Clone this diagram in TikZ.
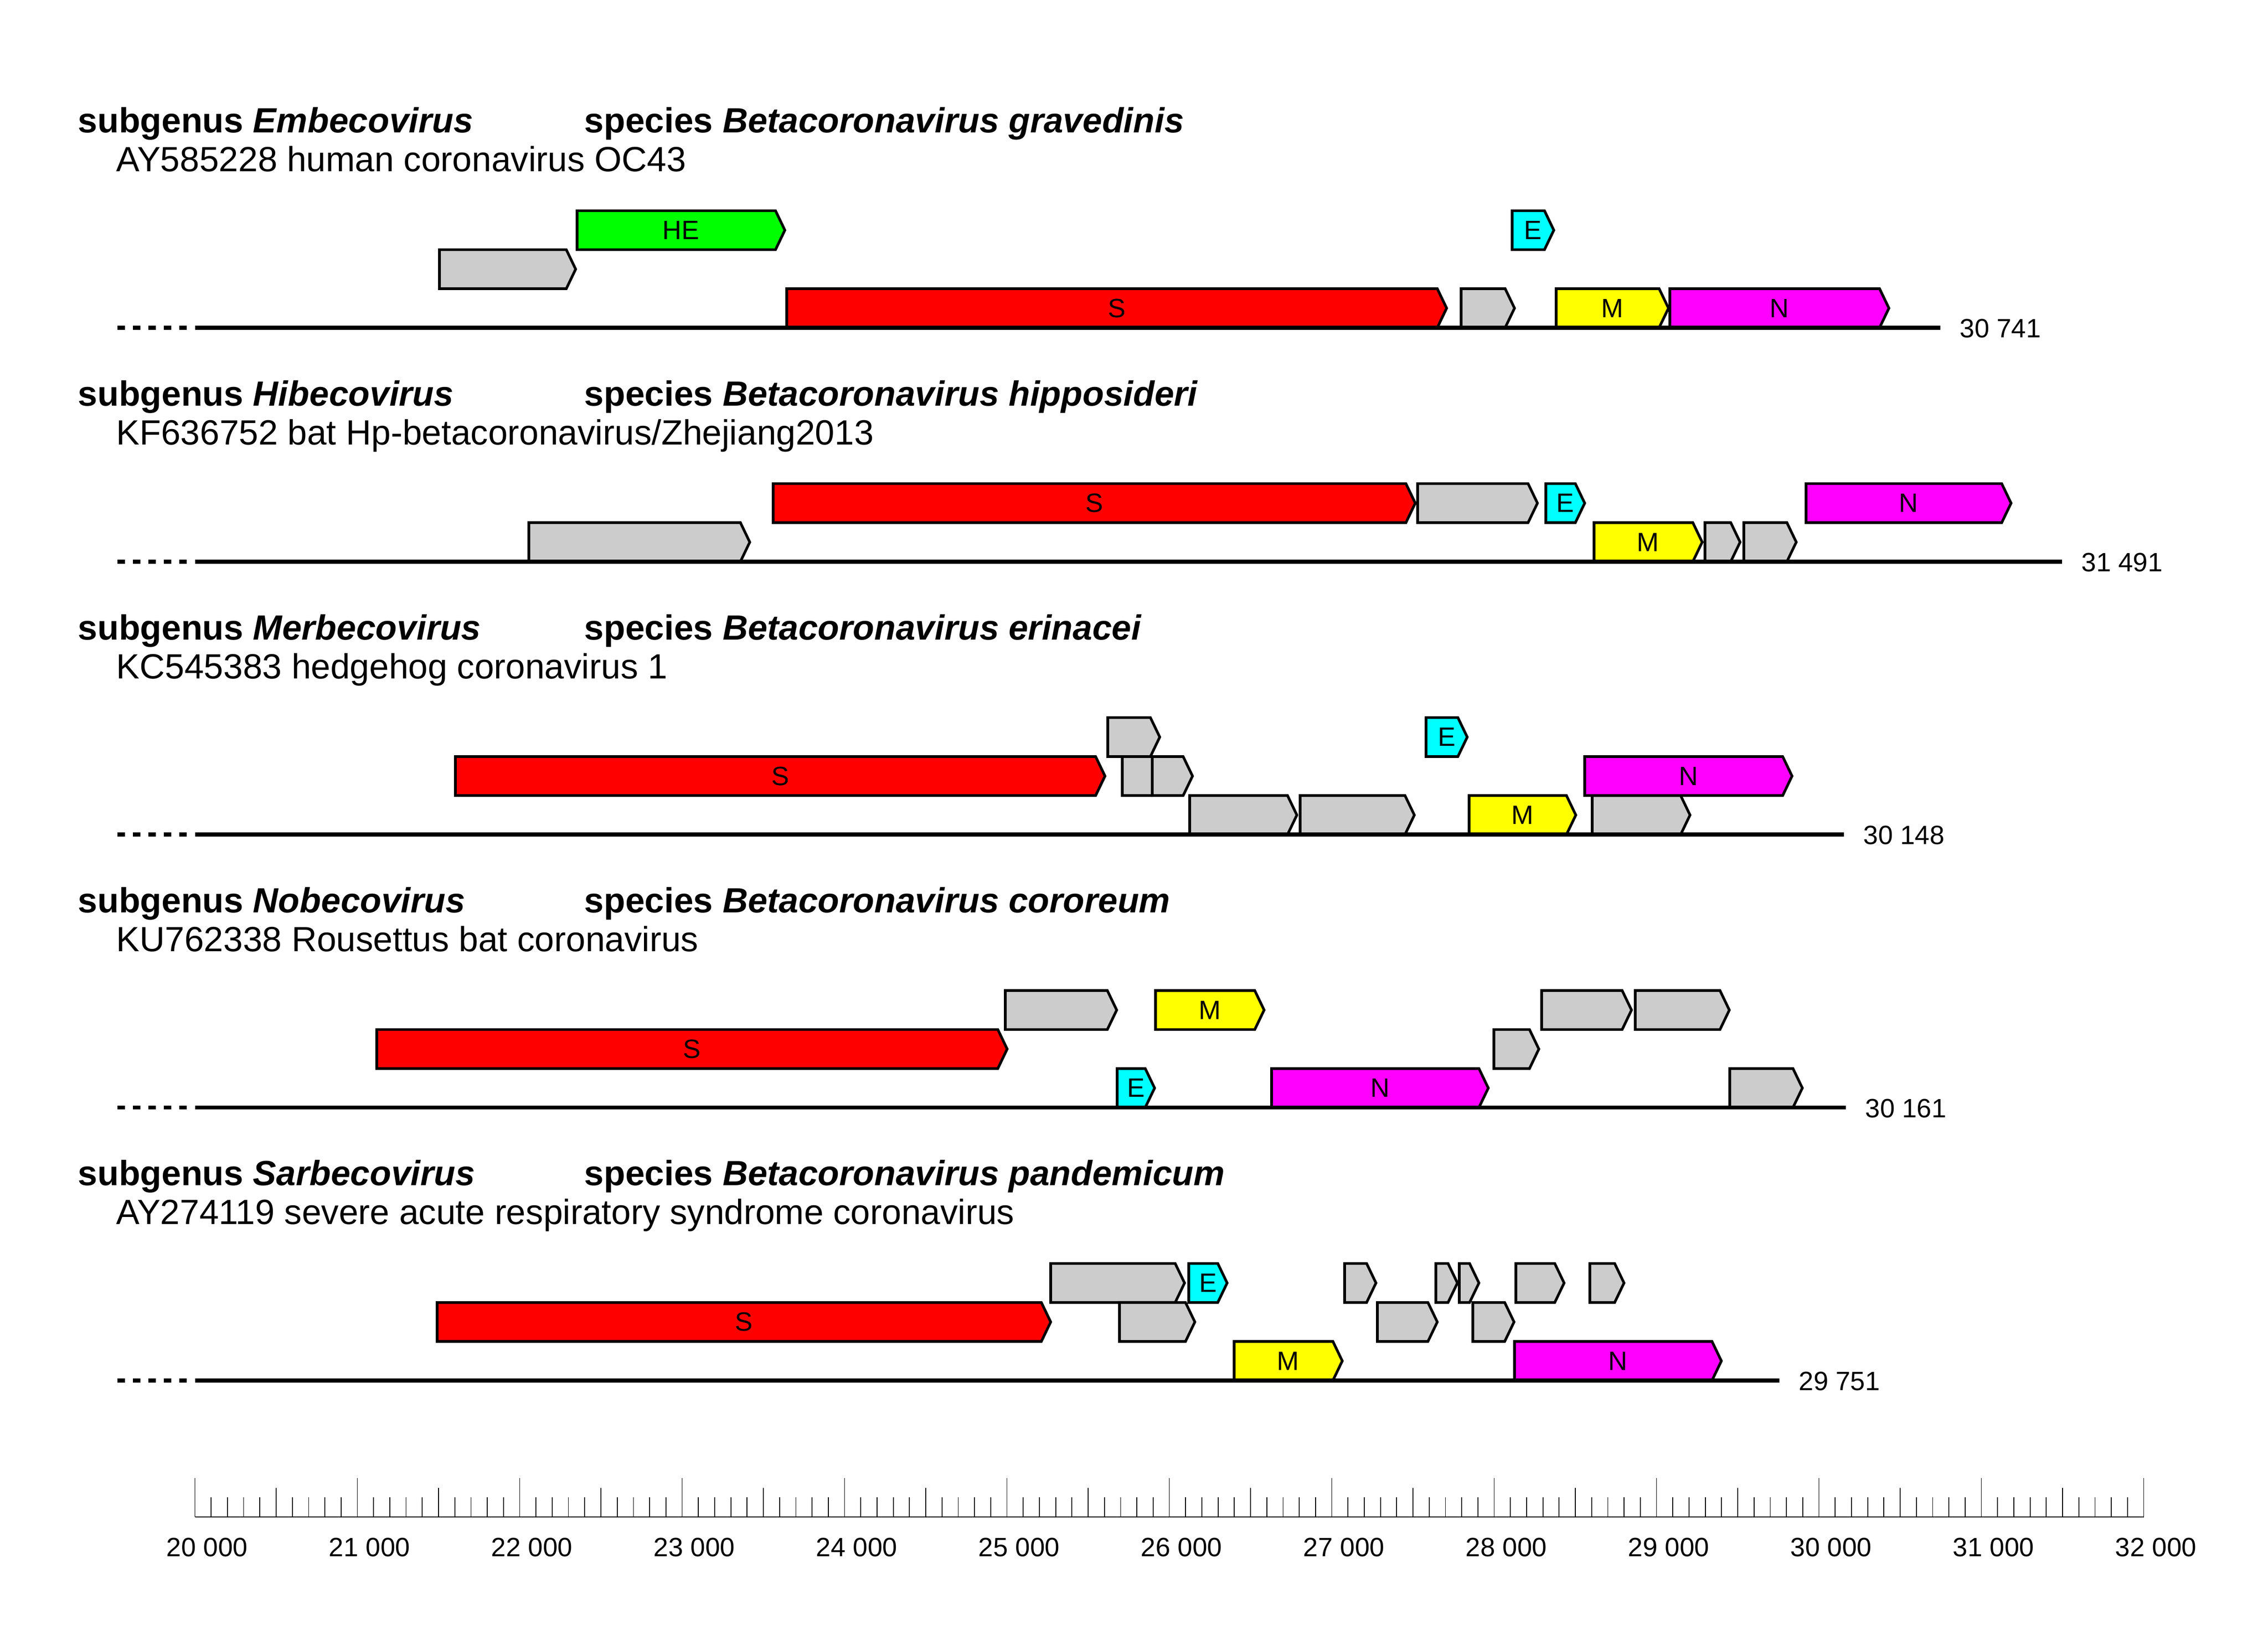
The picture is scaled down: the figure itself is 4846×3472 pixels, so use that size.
\documentclass[tikz,border=0pt]{standalone}
\usepackage{fontspec}
\setmainfont{Liberation Sans}
\definecolor{gred}{HTML}{FF0000}
\definecolor{ggreen}{HTML}{00FF00}
\definecolor{gcyan}{HTML}{00FFFF}
\definecolor{gyellow}{HTML}{FFFF00}
\definecolor{gmagenta}{HTML}{FF00FF}
\definecolor{ggray}{HTML}{CCCCCC}
\newcommand{\orfshape}[4]{% start, tip, row, baseline
  \pgfmathsetmacro{\gt}{#4-#3*83.33}
  \pgfmathsetmacro{\gm}{\gt+41.67}
  \pgfmathsetmacro{\gb}{\gt+83.33}
  \pgfmathsetmacro{\gr}{#2-20}
  \filldraw[genebox] (#1,\gt) -- (\gr,\gt) -- (#2,\gm) -- (\gr,\gb) -- (#1,\gb) -- cycle;
}
\newcommand{\gene}[6]{% start, tip, row, baseline, colour, label
  \pgfmathsetmacro{\gt}{#4-#3*83.33}
  \pgfmathsetmacro{\gm}{\gt+41.67}
  \pgfmathsetmacro{\gb}{\gt+83.33}
  \pgfmathsetmacro{\gr}{#2-20}
  \pgfmathsetmacro{\gc}{(#1+#2)/2}
  \filldraw[genebox,fill=#5] (#1,\gt) -- (\gr,\gt) -- (#2,\gm) -- (\gr,\gb) -- (#1,\gb) -- cycle;
  \node[genelab] at (\gc,\gm) {#6};
}
\newcommand{\track}[9]{% baseline, end, endlabel, subgenus, species, accession text, title baseline
  \draw[trackline] (416.5,#1) -- (#2,#1);
  \draw[dashline] (250.5,#1) -- (410,#1);
  \node[endlab] at ({#2+41},{#1+21}) {#3};
  \node[titlelab] at (166,#7) {\textbf{subgenus \textit{#4}}};
  \node[titlelab] at (1248,#7) {\textbf{species \textit{#5}}};
  \node[titlelab] at (248,{#7+83.33}) {#6};
}
\begin{document}
\begin{tikzpicture}[x=0.01cm,y=-0.01cm,
  genebox/.style={draw=black,fill=ggray,line width=1.6pt,line join=miter},
  genelab/.style={inner sep=0pt,font=\fontsize{16.1pt}{18pt}\selectfont},
  trackline/.style={draw=black,line width=2.4pt},
  dashline/.style={draw=black,line width=2.4pt,dash pattern=on 0.165cm off 0.165cm},
  endlab/.style={anchor=base west,inner sep=0pt,font=\fontsize{16.1pt}{18pt}\selectfont},
  titlelab/.style={anchor=base west,inner sep=0pt,font=\fontsize{21.28pt}{25pt}\selectfont},
  ticklab/.style={anchor=base,inner sep=0pt,font=\fontsize{16.1pt}{18pt}\selectfont},
  tickline/.style={draw=black,line width=0.5pt}]
\useasboundingbox (0,0) rectangle (4846,3472);
\fill[white] (0,0) rectangle (4846,3472);

% ---------- track 1 ----------
\orfshape{939}{1230}{2}{700.3}
\gene{1233}{1677}{3}{700.3}{ggreen}{HE}
\gene{1681}{3091}{1}{700.3}{gred}{S}
\orfshape{3122}{3236}{1}{700.3}
\gene{3231}{3320}{3}{700.3}{gcyan}{E}
\gene{3325}{3565}{1}{700.3}{gyellow}{M}
\gene{3568}{4036}{1}{700.3}{gmagenta}{N}
\track{700.3}{4146}{30 741}{Embecovirus}{Betacoronavirus gravedinis}{AY585228 human coronavirus OC43}{283.6}{}{}

% ---------- track 2 ----------
\orfshape{1130}{1602}{1}{1200.3}
\gene{1652}{3024}{2}{1200.3}{gred}{S}
\orfshape{3029}{3285}{2}{1200.3}
\gene{3303}{3386}{2}{1200.3}{gcyan}{E}
\gene{3406}{3637}{1}{1200.3}{gyellow}{M}
\orfshape{3643}{3718}{1}{1200.3}
\orfshape{3726}{3838}{1}{1200.3}
\gene{3859}{4297}{2}{1200.3}{gmagenta}{N}
\track{1200.3}{4406}{31 491}{Hibecovirus}{Betacoronavirus hipposideri}{KF636752 bat Hp-betacoronavirus/Zhejiang2013}{867}{}{}

% ---------- track 3 ----------
\gene{973}{2361}{2}{1783.6}{gred}{S}
\orfshape{2367}{2478}{3}{1783.6}
\orfshape{2398}{2482}{2}{1783.6}
\orfshape{2462}{2548}{2}{1783.6}
\orfshape{2542}{2771}{1}{1783.6}
\orfshape{2778}{3022}{1}{1783.6}
\gene{3047}{3135}{3}{1783.6}{gcyan}{E}
\gene{3139}{3367}{1}{1783.6}{gyellow}{M}
\orfshape{3402}{3611}{1}{1783.6}
\gene{3386}{3829}{2}{1783.6}{gmagenta}{N}
\track{1783.6}{3940}{30 148}{Merbecovirus}{Betacoronavirus erinacei}{KC545383 hedgehog coronavirus 1}{1367}{}{}

% ---------- track 4 ----------
\gene{805}{2152}{2}{2367}{gred}{S}
\orfshape{2148}{2386}{3}{2367}
\gene{2387}{2467}{1}{2367}{gcyan}{E}
\gene{2469}{2701}{3}{2367}{gyellow}{M}
\gene{2717}{3180}{1}{2367}{gmagenta}{N}
\orfshape{3192}{3288}{2}{2367}
\orfshape{3294}{3486}{3}{2367}
\orfshape{3494}{3695}{3}{2367}
\orfshape{3696}{3851}{1}{2367}
\track{2367}{3944}{30 161}{Nobecovirus}{Betacoronavirus cororeum}{KU762338 Rousettus bat coronavirus}{1950.3}{}{}

% ---------- track 5 ----------
\gene{934}{2245}{2}{2950.3}{gred}{S}
\orfshape{2245}{2531}{3}{2950.3}
\orfshape{2392}{2553}{2}{2950.3}
\gene{2540}{2622}{3}{2950.3}{gcyan}{E}
\gene{2637}{2868}{1}{2950.3}{gyellow}{M}
\orfshape{2873}{2940}{3}{2950.3}
\orfshape{2943}{3071}{2}{2950.3}
\orfshape{3068}{3114}{3}{2950.3}
\orfshape{3118}{3160}{3}{2950.3}
\orfshape{3147}{3235}{2}{2950.3}
\gene{3236}{3678}{1}{2950.3}{gmagenta}{N}
\orfshape{3239}{3342}{3}{2950.3}
\orfshape{3397}{3470}{3}{2950.3}
\track{2950.3}{3802}{29 751}{Sarbecovirus}{Betacoronavirus pandemicum}{AY274119 severe acute respiratory syndrome coronavirus}{2533.6}{}{}

% ---------- scale axis ----------
\draw[tickline] (416.5,3242) -- (4580.5,3242);
\foreach \i in {0,...,120} {
  \pgfmathsetmacro{\tx}{416.5+\i*34.7}
  \draw[tickline] (\tx,3242) -- (\tx,3200.3);
}
\foreach \i in {0,5,...,120} {
  \pgfmathsetmacro{\tx}{416.5+\i*34.7}
  \draw[tickline] (\tx,3242) -- (\tx,3179.6);
}
\foreach \k in {0,...,12} {
  \pgfmathsetmacro{\tx}{416.5+\k*347}
  \pgfmathtruncatemacro{\kv}{20+\k}
  \draw[tickline] (\tx,3242) -- (\tx,3158.9);
  \node[ticklab] (lab\k) at ({\tx+26},3326) {\kv\ 000};
}
\end{tikzpicture}
\end{document}
